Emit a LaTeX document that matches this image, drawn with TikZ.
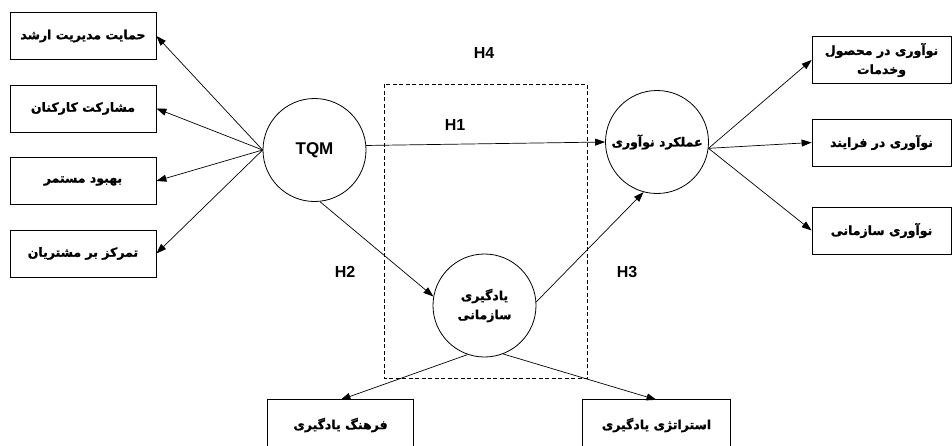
\documentclass[tikz,border=0pt]{standalone}
\usepackage{fontspec}
\setmainfont{Liberation Sans}
\newfontfamily\fa[Script=Arabic, BoldFeatures={FakeBold=1.2}]{DejaVu Sans}
\TeXXeTstate=1
\usetikzlibrary{arrows.meta}
\newcommand{\pr}[1]{{\fa\bfseries\beginR #1\endR}}
\begin{document}
\begin{tikzpicture}[x=1pt,y=-1pt,
  lbox/.style={draw, line width=0.8pt, minimum width=146pt, minimum height=47pt, inner sep=0pt, align=center, font=\fontsize{12.5}{19}\selectfont},
  rbox/.style={lbox, minimum width=139pt},
  bbox/.style={minimum height=50pt, inner sep=0pt, font=\fontsize{12.5}{19}\selectfont},
  circ/.style={draw, circle, line width=0.8pt, minimum size=103pt, inner sep=0pt, align=center, font=\fontsize{12.5}{19}\selectfont},
  arr/.style={-{Triangle[length=10pt,width=7pt]}, line width=0.7pt},
  hlab/.style={font=\fontsize{16}{18}\selectfont\bfseries}]
\useasboundingbox (0,0) rectangle (952,445);

% left boxes
\node[lbox] (l1) at (83,36) {\pr{حمایت مدیریت ارشد}};
\node[lbox] (l2) at (83,108.5) {\pr{مشارکت کارکنان}};
\node[lbox] (l3) at (83,181) {\pr{بهبود مستمر}};
\node[lbox] (l4) at (83,253.5) {\pr{تمرکز بر مشتریان}};

% right boxes
\node[rbox] (r1) at (881.5,60) {\pr{نوآوری در محصول}\\\pr{وخدمات}};
\node[rbox] (r2) at (881.5,142.5) {\pr{نوآوری در فرایند}};
\node[rbox] (r3) at (881.5,230.5) {\pr{نوآوری سازمانی}};

% bottom boxes (cut by the lower edge)
\node[bbox, minimum width=145pt] (b1) at (340.5,425) {\pr{فرهنگ یادگیری}};
\node[bbox, minimum width=147pt] (b2) at (656.5,425) {\pr{استراتژی یادگیری}};
\draw[line width=0.8pt] (b1.south west) -- (b1.north west) -- (b1.north east) -- (b1.south east);
\draw[line width=0.8pt] (b2.south west) -- (b2.north west) -- (b2.north east) -- (b2.south east);

% circles
\node[circ, font=\fontsize{17}{19}\selectfont\bfseries] (tqm) at (314.5,150) {TQM};
\node[circ] (inn) at (657,142) {\pr{عملکرد نوآوری}};
\node[circ] (yad) at (484.5,305.5) {\pr{یادگیری}\\\pr{سازمانی}};

% dashed frame
\draw[line width=0.8pt, dash pattern=on 4pt off 2.5pt] (384,84) rectangle (587,378);

% labels
\node[hlab] (h4) at (484,53) {H4};
\node[hlab] (h1) at (455,125) {H1};
\node[hlab] (h2) at (345,272) {H2};
\node[hlab] (h3) at (627,272) {H3};

% connectors
\draw[arr] (tqm.west) -- (l1.east);
\draw[arr] (tqm.west) -- (l2.east);
\draw[arr] (tqm.west) -- (l3.east);
\draw[arr] (tqm.west) -- (l4.east);
\draw[arr] (tqm.5) -- (inn.west);
\draw[arr] (tqm.-84) -- (yad.170);
\draw[arr] (yad.4) -- (inn.-105);
\draw[arr] (inn.-7) -- (r1.west);
\draw[arr] (inn.-7) -- (r2.west);
\draw[arr] (inn.-7) -- (r3.west);
\draw[arr] (yad.-109) -- (b1.north);
\draw[arr] (yad.-69) -- (b2.north);
\end{tikzpicture}
\end{document}
